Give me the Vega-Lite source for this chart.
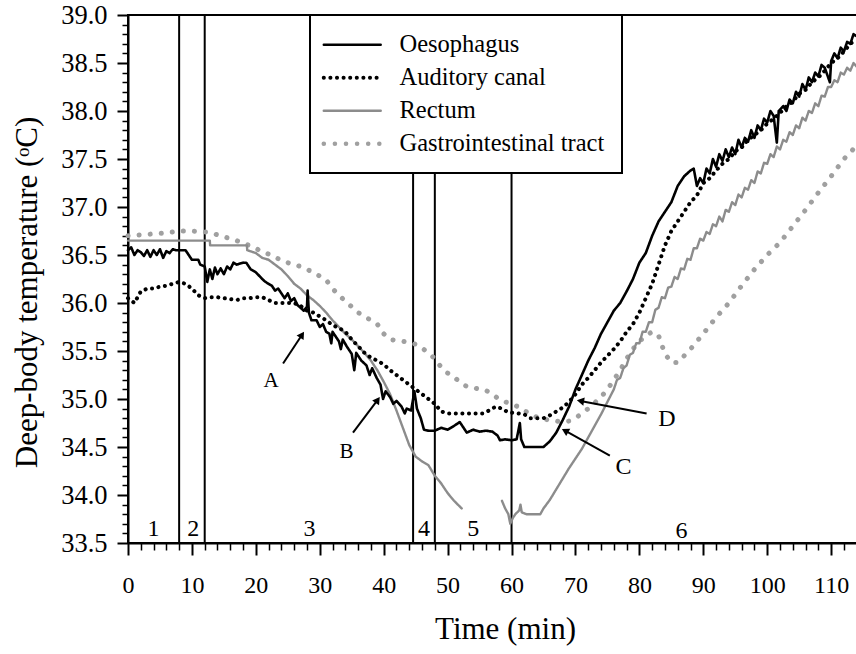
{
"$schema": "https://vega.github.io/schema/vega-lite/v6.json",
"width": 730, "height": 528,
"autosize": {"type": "none"},
"padding": {"left": 128, "top": 15, "right": 0, "bottom": 111},
"config": {
 "font": "Liberation Serif",
 "view": {"stroke": "black", "strokeWidth": 2},
 "axis": {"labelFont": "Liberation Serif", "titleFont": "Liberation Serif", "labelColor": "black", "titleColor": "black", "domainColor": "black", "tickColor": "black", "domainWidth": 2, "tickWidth": 2, "grid": false, "titleFontWeight": "normal", "labelFlush": false, "labelOverlap": false},
 "text": {"font": "Liberation Serif", "color": "black"}
},
"datasets": {
 "series": [
{"s":"Oesophagus","t":0,"v":36.55},{"s":"Oesophagus","t":0.5,"v":36.58},{"s":"Oesophagus","t":1,"v":36.5},{"s":"Oesophagus","t":1.5,"v":36.55},{"s":"Oesophagus","t":2,"v":36.53},{"s":"Oesophagus","t":2.5,"v":36.49},{"s":"Oesophagus","t":3,"v":36.55},{"s":"Oesophagus","t":3.5,"v":36.48},{"s":"Oesophagus","t":4,"v":36.55},{"s":"Oesophagus","t":4.5,"v":36.5},{"s":"Oesophagus","t":5,"v":36.56},{"s":"Oesophagus","t":5.5,"v":36.47},{"s":"Oesophagus","t":6,"v":36.54},{"s":"Oesophagus","t":6.5,"v":36.52},{"s":"Oesophagus","t":7,"v":36.56},{"s":"Oesophagus","t":7.5,"v":36.55},{"s":"Oesophagus","t":8,"v":36.55},{"s":"Oesophagus","t":9,"v":36.55},{"s":"Oesophagus","t":9.5,"v":36.5},{"s":"Oesophagus","t":10,"v":36.45},{"s":"Oesophagus","t":11,"v":36.45},{"s":"Oesophagus","t":11.3,"v":36.4},{"s":"Oesophagus","t":12,"v":36.38},{"s":"Oesophagus","t":12.4,"v":36.22},{"s":"Oesophagus","t":12.8,"v":36.35},{"s":"Oesophagus","t":13.2,"v":36.25},{"s":"Oesophagus","t":13.6,"v":36.37},{"s":"Oesophagus","t":14,"v":36.3},{"s":"Oesophagus","t":14.5,"v":36.36},{"s":"Oesophagus","t":15,"v":36.3},{"s":"Oesophagus","t":15.5,"v":36.38},{"s":"Oesophagus","t":16,"v":36.35},{"s":"Oesophagus","t":16.5,"v":36.42},{"s":"Oesophagus","t":17,"v":36.4},{"s":"Oesophagus","t":18,"v":36.42},{"s":"Oesophagus","t":18.5,"v":36.42},{"s":"Oesophagus","t":19.2,"v":36.35},{"s":"Oesophagus","t":20,"v":36.32},{"s":"Oesophagus","t":21,"v":36.25},{"s":"Oesophagus","t":21.5,"v":36.22},{"s":"Oesophagus","t":22.5,"v":36.18},{"s":"Oesophagus","t":23,"v":36.13},{"s":"Oesophagus","t":23.5,"v":36.15},{"s":"Oesophagus","t":24,"v":36.1},{"s":"Oesophagus","t":24.5,"v":36.05},{"s":"Oesophagus","t":25,"v":36.1},{"s":"Oesophagus","t":25.5,"v":36.02},{"s":"Oesophagus","t":26,"v":36.05},{"s":"Oesophagus","t":26.5,"v":35.98},{"s":"Oesophagus","t":27,"v":35.95},{"s":"Oesophagus","t":27.5,"v":35.92},{"s":"Oesophagus","t":28,"v":35.96},{"s":"Oesophagus","t":28.1,"v":36.13},{"s":"Oesophagus","t":28.3,"v":35.9},{"s":"Oesophagus","t":28.7,"v":35.82},{"s":"Oesophagus","t":29.5,"v":35.82},{"s":"Oesophagus","t":30,"v":35.75},{"s":"Oesophagus","t":30.5,"v":35.78},{"s":"Oesophagus","t":31,"v":35.7},{"s":"Oesophagus","t":31.5,"v":35.68},{"s":"Oesophagus","t":31.8,"v":35.58},{"s":"Oesophagus","t":32,"v":35.7},{"s":"Oesophagus","t":32.5,"v":35.65},{"s":"Oesophagus","t":33,"v":35.6},{"s":"Oesophagus","t":33.3,"v":35.52},{"s":"Oesophagus","t":33.6,"v":35.62},{"s":"Oesophagus","t":34.2,"v":35.55},{"s":"Oesophagus","t":35,"v":35.47},{"s":"Oesophagus","t":35.4,"v":35.3},{"s":"Oesophagus","t":35.7,"v":35.48},{"s":"Oesophagus","t":36.5,"v":35.4},{"s":"Oesophagus","t":37.3,"v":35.35},{"s":"Oesophagus","t":37.8,"v":35.25},{"s":"Oesophagus","t":38.2,"v":35.32},{"s":"Oesophagus","t":38.9,"v":35.22},{"s":"Oesophagus","t":39.5,"v":35.15},{"s":"Oesophagus","t":39.9,"v":35.0},{"s":"Oesophagus","t":40.3,"v":35.08},{"s":"Oesophagus","t":41,"v":35.02},{"s":"Oesophagus","t":41.5,"v":34.95},{"s":"Oesophagus","t":42,"v":34.98},{"s":"Oesophagus","t":42.8,"v":34.92},{"s":"Oesophagus","t":43.3,"v":34.85},{"s":"Oesophagus","t":43.6,"v":34.9},{"s":"Oesophagus","t":44.3,"v":34.88},{"s":"Oesophagus","t":44.8,"v":35.08},{"s":"Oesophagus","t":45.2,"v":34.9},{"s":"Oesophagus","t":45.8,"v":34.8},{"s":"Oesophagus","t":46.3,"v":34.68},{"s":"Oesophagus","t":47,"v":34.67},{"s":"Oesophagus","t":48,"v":34.67},{"s":"Oesophagus","t":49,"v":34.7},{"s":"Oesophagus","t":50,"v":34.68},{"s":"Oesophagus","t":51,"v":34.72},{"s":"Oesophagus","t":51.9,"v":34.76},{"s":"Oesophagus","t":52.5,"v":34.7},{"s":"Oesophagus","t":53,"v":34.65},{"s":"Oesophagus","t":54,"v":34.68},{"s":"Oesophagus","t":55,"v":34.66},{"s":"Oesophagus","t":56,"v":34.67},{"s":"Oesophagus","t":57,"v":34.66},{"s":"Oesophagus","t":57.8,"v":34.62},{"s":"Oesophagus","t":58.2,"v":34.57},{"s":"Oesophagus","t":59,"v":34.58},{"s":"Oesophagus","t":60,"v":34.57},{"s":"Oesophagus","t":60.8,"v":34.58},{"s":"Oesophagus","t":61.3,"v":34.75},{"s":"Oesophagus","t":61.5,"v":34.58},{"s":"Oesophagus","t":62,"v":34.5},{"s":"Oesophagus","t":63,"v":34.5},{"s":"Oesophagus","t":64,"v":34.5},{"s":"Oesophagus","t":65,"v":34.5},{"s":"Oesophagus","t":66,"v":34.56},{"s":"Oesophagus","t":67,"v":34.65},{"s":"Oesophagus","t":68,"v":34.78},{"s":"Oesophagus","t":69,"v":34.92},{"s":"Oesophagus","t":70,"v":35.1},{"s":"Oesophagus","t":71,"v":35.25},{"s":"Oesophagus","t":72,"v":35.4},{"s":"Oesophagus","t":73,"v":35.53},{"s":"Oesophagus","t":74,"v":35.68},{"s":"Oesophagus","t":75,"v":35.8},{"s":"Oesophagus","t":76,"v":35.92},{"s":"Oesophagus","t":77,"v":36.0},{"s":"Oesophagus","t":78,"v":36.12},{"s":"Oesophagus","t":79,"v":36.25},{"s":"Oesophagus","t":80,"v":36.42},{"s":"Oesophagus","t":81,"v":36.52},{"s":"Oesophagus","t":82,"v":36.7},{"s":"Oesophagus","t":83,"v":36.85},{"s":"Oesophagus","t":84,"v":36.95},{"s":"Oesophagus","t":85,"v":37.05},{"s":"Oesophagus","t":86,"v":37.22},{"s":"Oesophagus","t":87,"v":37.32},{"s":"Oesophagus","t":88,"v":37.38},{"s":"Oesophagus","t":88.5,"v":37.4},{"s":"Oesophagus","t":89,"v":37.22},{"s":"Oesophagus","t":89.5,"v":37.3},{"s":"Oesophagus","t":90,"v":37.25},{"s":"Oesophagus","t":90.5,"v":37.4},{"s":"Oesophagus","t":91,"v":37.35},{"s":"Oesophagus","t":91.5,"v":37.5},{"s":"Oesophagus","t":92,"v":37.42},{"s":"Oesophagus","t":92.5,"v":37.55},{"s":"Oesophagus","t":93,"v":37.48},{"s":"Oesophagus","t":93.5,"v":37.6},{"s":"Oesophagus","t":94,"v":37.52},{"s":"Oesophagus","t":94.5,"v":37.62},{"s":"Oesophagus","t":95,"v":37.55},{"s":"Oesophagus","t":95.5,"v":37.7},{"s":"Oesophagus","t":96,"v":37.62},{"s":"Oesophagus","t":96.5,"v":37.72},{"s":"Oesophagus","t":97,"v":37.68},{"s":"Oesophagus","t":97.5,"v":37.8},{"s":"Oesophagus","t":98,"v":37.72},{"s":"Oesophagus","t":98.5,"v":37.85},{"s":"Oesophagus","t":99,"v":37.8},{"s":"Oesophagus","t":99.5,"v":37.92},{"s":"Oesophagus","t":100,"v":37.88},{"s":"Oesophagus","t":100.5,"v":38.0},{"s":"Oesophagus","t":101,"v":37.95},{"s":"Oesophagus","t":101.5,"v":37.67},{"s":"Oesophagus","t":101.8,"v":38.0},{"s":"Oesophagus","t":102.5,"v":38.05},{"s":"Oesophagus","t":103,"v":38.0},{"s":"Oesophagus","t":103.5,"v":38.12},{"s":"Oesophagus","t":104,"v":38.08},{"s":"Oesophagus","t":104.5,"v":38.2},{"s":"Oesophagus","t":105,"v":38.15},{"s":"Oesophagus","t":105.5,"v":38.28},{"s":"Oesophagus","t":106,"v":38.22},{"s":"Oesophagus","t":106.5,"v":38.35},{"s":"Oesophagus","t":107,"v":38.3},{"s":"Oesophagus","t":107.5,"v":38.4},{"s":"Oesophagus","t":108,"v":38.36},{"s":"Oesophagus","t":108.5,"v":38.48},{"s":"Oesophagus","t":109,"v":38.45},{"s":"Oesophagus","t":109.8,"v":38.3},{"s":"Oesophagus","t":110,"v":38.52},{"s":"Oesophagus","t":110.5,"v":38.6},{"s":"Oesophagus","t":111,"v":38.55},{"s":"Oesophagus","t":111.5,"v":38.66},{"s":"Oesophagus","t":112,"v":38.62},{"s":"Oesophagus","t":112.5,"v":38.72},{"s":"Oesophagus","t":113,"v":38.7},{"s":"Oesophagus","t":113.5,"v":38.8},{"s":"Oesophagus","t":114,"v":38.78},
{"s":"Auditory canal","t":0,"v":36.05},{"s":"Auditory canal","t":1,"v":36.0},{"s":"Auditory canal","t":2,"v":36.12},{"s":"Auditory canal","t":3,"v":36.15},{"s":"Auditory canal","t":4,"v":36.15},{"s":"Auditory canal","t":5,"v":36.17},{"s":"Auditory canal","t":6,"v":36.18},{"s":"Auditory canal","t":7,"v":36.2},{"s":"Auditory canal","t":8,"v":36.22},{"s":"Auditory canal","t":9,"v":36.2},{"s":"Auditory canal","t":10,"v":36.15},{"s":"Auditory canal","t":11,"v":36.08},{"s":"Auditory canal","t":12,"v":36.05},{"s":"Auditory canal","t":13,"v":36.06},{"s":"Auditory canal","t":14,"v":36.06},{"s":"Auditory canal","t":15,"v":36.05},{"s":"Auditory canal","t":16,"v":36.04},{"s":"Auditory canal","t":17,"v":36.03},{"s":"Auditory canal","t":18,"v":36.05},{"s":"Auditory canal","t":19,"v":36.05},{"s":"Auditory canal","t":20,"v":36.06},{"s":"Auditory canal","t":21,"v":36.06},{"s":"Auditory canal","t":22,"v":36.03},{"s":"Auditory canal","t":23,"v":36.0},{"s":"Auditory canal","t":24,"v":36.0},{"s":"Auditory canal","t":25,"v":36.0},{"s":"Auditory canal","t":26,"v":36.0},{"s":"Auditory canal","t":27,"v":35.97},{"s":"Auditory canal","t":28,"v":35.92},{"s":"Auditory canal","t":29,"v":35.9},{"s":"Auditory canal","t":30,"v":35.86},{"s":"Auditory canal","t":31,"v":35.82},{"s":"Auditory canal","t":32,"v":35.77},{"s":"Auditory canal","t":33,"v":35.74},{"s":"Auditory canal","t":34,"v":35.7},{"s":"Auditory canal","t":35,"v":35.62},{"s":"Auditory canal","t":36,"v":35.55},{"s":"Auditory canal","t":37,"v":35.48},{"s":"Auditory canal","t":38,"v":35.43},{"s":"Auditory canal","t":39,"v":35.4},{"s":"Auditory canal","t":40,"v":35.36},{"s":"Auditory canal","t":41,"v":35.3},{"s":"Auditory canal","t":42,"v":35.25},{"s":"Auditory canal","t":43,"v":35.2},{"s":"Auditory canal","t":44,"v":35.15},{"s":"Auditory canal","t":45,"v":35.1},{"s":"Auditory canal","t":46,"v":35.05},{"s":"Auditory canal","t":47,"v":35.0},{"s":"Auditory canal","t":48,"v":34.95},{"s":"Auditory canal","t":49,"v":34.87},{"s":"Auditory canal","t":50,"v":34.85},{"s":"Auditory canal","t":52,"v":34.85},{"s":"Auditory canal","t":54,"v":34.85},{"s":"Auditory canal","t":55.5,"v":34.85},{"s":"Auditory canal","t":56.5,"v":34.88},{"s":"Auditory canal","t":57.5,"v":34.92},{"s":"Auditory canal","t":58.5,"v":34.9},{"s":"Auditory canal","t":59.5,"v":34.86},{"s":"Auditory canal","t":61,"v":34.85},{"s":"Auditory canal","t":62,"v":34.84},{"s":"Auditory canal","t":63,"v":34.8},{"s":"Auditory canal","t":64,"v":34.8},{"s":"Auditory canal","t":65,"v":34.8},{"s":"Auditory canal","t":66,"v":34.83},{"s":"Auditory canal","t":67,"v":34.87},{"s":"Auditory canal","t":68,"v":34.91},{"s":"Auditory canal","t":69,"v":34.97},{"s":"Auditory canal","t":70,"v":35.05},{"s":"Auditory canal","t":71,"v":35.15},{"s":"Auditory canal","t":72,"v":35.22},{"s":"Auditory canal","t":73,"v":35.3},{"s":"Auditory canal","t":74,"v":35.38},{"s":"Auditory canal","t":75,"v":35.45},{"s":"Auditory canal","t":76,"v":35.52},{"s":"Auditory canal","t":77,"v":35.6},{"s":"Auditory canal","t":78,"v":35.7},{"s":"Auditory canal","t":79,"v":35.78},{"s":"Auditory canal","t":80,"v":35.9},{"s":"Auditory canal","t":81,"v":36.05},{"s":"Auditory canal","t":82,"v":36.2},{"s":"Auditory canal","t":83,"v":36.4},{"s":"Auditory canal","t":84,"v":36.6},{"s":"Auditory canal","t":85,"v":36.75},{"s":"Auditory canal","t":86,"v":36.85},{"s":"Auditory canal","t":87,"v":36.95},{"s":"Auditory canal","t":88,"v":37.05},{"s":"Auditory canal","t":89,"v":37.12},{"s":"Auditory canal","t":90,"v":37.25},{"s":"Auditory canal","t":91,"v":37.3},{"s":"Auditory canal","t":92,"v":37.38},{"s":"Auditory canal","t":93,"v":37.45},{"s":"Auditory canal","t":94,"v":37.5},{"s":"Auditory canal","t":95,"v":37.58},{"s":"Auditory canal","t":96,"v":37.62},{"s":"Auditory canal","t":97,"v":37.7},{"s":"Auditory canal","t":98,"v":37.75},{"s":"Auditory canal","t":99,"v":37.8},{"s":"Auditory canal","t":100,"v":37.87},{"s":"Auditory canal","t":101,"v":37.92},{"s":"Auditory canal","t":102,"v":37.98},{"s":"Auditory canal","t":103,"v":38.05},{"s":"Auditory canal","t":104,"v":38.1},{"s":"Auditory canal","t":105,"v":38.18},{"s":"Auditory canal","t":106,"v":38.22},{"s":"Auditory canal","t":107,"v":38.3},{"s":"Auditory canal","t":108,"v":38.35},{"s":"Auditory canal","t":109,"v":38.42},{"s":"Auditory canal","t":110,"v":38.5},{"s":"Auditory canal","t":111,"v":38.55},{"s":"Auditory canal","t":112,"v":38.62},{"s":"Auditory canal","t":113,"v":38.7},{"s":"Auditory canal","t":114,"v":38.75},
{"s":"Rectum","p":1,"t":0,"v":36.65},{"s":"Rectum","p":1,"t":12.8,"v":36.65},{"s":"Rectum","p":1,"t":12.85,"v":36.6},{"s":"Rectum","p":1,"t":18.6,"v":36.6},{"s":"Rectum","p":1,"t":18.65,"v":36.55},{"s":"Rectum","p":1,"t":20,"v":36.52},{"s":"Rectum","p":1,"t":21,"v":36.47},{"s":"Rectum","p":1,"t":22,"v":36.45},{"s":"Rectum","p":1,"t":23,"v":36.4},{"s":"Rectum","p":1,"t":24,"v":36.35},{"s":"Rectum","p":1,"t":25,"v":36.28},{"s":"Rectum","p":1,"t":26,"v":36.2},{"s":"Rectum","p":1,"t":27,"v":36.15},{"s":"Rectum","p":1,"t":28,"v":36.08},{"s":"Rectum","p":1,"t":29,"v":36.03},{"s":"Rectum","p":1,"t":30,"v":35.97},{"s":"Rectum","p":1,"t":31,"v":35.9},{"s":"Rectum","p":1,"t":32,"v":35.82},{"s":"Rectum","p":1,"t":33,"v":35.75},{"s":"Rectum","p":1,"t":34,"v":35.68},{"s":"Rectum","p":1,"t":35,"v":35.62},{"s":"Rectum","p":1,"t":36,"v":35.55},{"s":"Rectum","p":1,"t":37,"v":35.48},{"s":"Rectum","p":1,"t":38,"v":35.4},{"s":"Rectum","p":1,"t":39,"v":35.3},{"s":"Rectum","p":1,"t":40,"v":35.18},{"s":"Rectum","p":1,"t":41,"v":35.05},{"s":"Rectum","p":1,"t":42,"v":34.88},{"s":"Rectum","p":1,"t":43,"v":34.7},{"s":"Rectum","p":1,"t":44,"v":34.52},{"s":"Rectum","p":1,"t":45,"v":34.4},{"s":"Rectum","p":1,"t":46,"v":34.35},{"s":"Rectum","p":1,"t":47,"v":34.31},{"s":"Rectum","p":1,"t":48,"v":34.2},{"s":"Rectum","p":1,"t":49,"v":34.12},{"s":"Rectum","p":1,"t":50,"v":34.02},{"s":"Rectum","p":1,"t":51,"v":33.94},{"s":"Rectum","p":1,"t":52.2,"v":33.86},
{"s":"Rectum","p":2,"t":58.5,"v":33.94},{"s":"Rectum","p":2,"t":59,"v":33.86},{"s":"Rectum","p":2,"t":59.5,"v":33.8},{"s":"Rectum","p":2,"t":59.8,"v":33.7},{"s":"Rectum","p":2,"t":60.2,"v":33.76},{"s":"Rectum","p":2,"t":60.6,"v":33.8},{"s":"Rectum","p":2,"t":61.2,"v":33.84},{"s":"Rectum","p":2,"t":61.4,"v":33.9},{"s":"Rectum","p":2,"t":61.6,"v":33.82},{"s":"Rectum","p":2,"t":62.3,"v":33.8},{"s":"Rectum","p":2,"t":64.5,"v":33.8},{"s":"Rectum","p":2,"t":65,"v":33.86},{"s":"Rectum","p":2,"t":66,"v":33.95},{"s":"Rectum","p":2,"t":67,"v":34.06},{"s":"Rectum","p":2,"t":68,"v":34.17},{"s":"Rectum","p":2,"t":69,"v":34.28},{"s":"Rectum","p":2,"t":70,"v":34.38},{"s":"Rectum","p":2,"t":71,"v":34.48},{"s":"Rectum","p":2,"t":72,"v":34.6},{"s":"Rectum","p":2,"t":73,"v":34.72},{"s":"Rectum","p":2,"t":74,"v":34.84},{"s":"Rectum","p":2,"t":75,"v":34.97},{"s":"Rectum","p":2,"t":76,"v":35.1},{"s":"Rectum","p":2,"t":76.5,"v":35.2},{"s":"Rectum","p":2,"t":77,"v":35.22},{"s":"Rectum","p":2,"t":77.5,"v":35.32},{"s":"Rectum","p":2,"t":78,"v":35.35},{"s":"Rectum","p":2,"t":78.5,"v":35.46},{"s":"Rectum","p":2,"t":79,"v":35.48},{"s":"Rectum","p":2,"t":79.5,"v":35.58},{"s":"Rectum","p":2,"t":80,"v":35.58},{"s":"Rectum","p":2,"t":80.5,"v":35.7},{"s":"Rectum","p":2,"t":81,"v":35.7},{"s":"Rectum","p":2,"t":81.5,"v":35.8},{"s":"Rectum","p":2,"t":82,"v":35.8},{"s":"Rectum","p":2,"t":82.5,"v":35.93},{"s":"Rectum","p":2,"t":83,"v":35.95},{"s":"Rectum","p":2,"t":83.5,"v":36.06},{"s":"Rectum","p":2,"t":84,"v":36.05},{"s":"Rectum","p":2,"t":84.5,"v":36.16},{"s":"Rectum","p":2,"t":85,"v":36.17},{"s":"Rectum","p":2,"t":85.5,"v":36.27},{"s":"Rectum","p":2,"t":86,"v":36.25},{"s":"Rectum","p":2,"t":86.5,"v":36.36},{"s":"Rectum","p":2,"t":87,"v":36.35},{"s":"Rectum","p":2,"t":87.5,"v":36.46},{"s":"Rectum","p":2,"t":88,"v":36.45},{"s":"Rectum","p":2,"t":88.5,"v":36.57},{"s":"Rectum","p":2,"t":89,"v":36.57},{"s":"Rectum","p":2,"t":89.5,"v":36.67},{"s":"Rectum","p":2,"t":90,"v":36.65},{"s":"Rectum","p":2,"t":90.5,"v":36.74},{"s":"Rectum","p":2,"t":91,"v":36.72},{"s":"Rectum","p":2,"t":91.5,"v":36.82},{"s":"Rectum","p":2,"t":92,"v":36.8},{"s":"Rectum","p":2,"t":92.5,"v":36.9},{"s":"Rectum","p":2,"t":93,"v":36.85},{"s":"Rectum","p":2,"t":93.5,"v":36.97},{"s":"Rectum","p":2,"t":94,"v":36.95},{"s":"Rectum","p":2,"t":94.5,"v":37.05},{"s":"Rectum","p":2,"t":95,"v":37.02},{"s":"Rectum","p":2,"t":95.5,"v":37.13},{"s":"Rectum","p":2,"t":96,"v":37.1},{"s":"Rectum","p":2,"t":96.5,"v":37.2},{"s":"Rectum","p":2,"t":97,"v":37.18},{"s":"Rectum","p":2,"t":97.5,"v":37.28},{"s":"Rectum","p":2,"t":98,"v":37.25},{"s":"Rectum","p":2,"t":98.5,"v":37.37},{"s":"Rectum","p":2,"t":99,"v":37.35},{"s":"Rectum","p":2,"t":99.5,"v":37.46},{"s":"Rectum","p":2,"t":100,"v":37.45},{"s":"Rectum","p":2,"t":100.5,"v":37.55},{"s":"Rectum","p":2,"t":101,"v":37.52},{"s":"Rectum","p":2,"t":101.5,"v":37.63},{"s":"Rectum","p":2,"t":102,"v":37.6},{"s":"Rectum","p":2,"t":102.5,"v":37.7},{"s":"Rectum","p":2,"t":103,"v":37.68},{"s":"Rectum","p":2,"t":103.5,"v":37.78},{"s":"Rectum","p":2,"t":104,"v":37.75},{"s":"Rectum","p":2,"t":104.5,"v":37.85},{"s":"Rectum","p":2,"t":105,"v":37.82},{"s":"Rectum","p":2,"t":105.5,"v":37.93},{"s":"Rectum","p":2,"t":106,"v":37.9},{"s":"Rectum","p":2,"t":106.5,"v":38.0},{"s":"Rectum","p":2,"t":107,"v":37.98},{"s":"Rectum","p":2,"t":107.5,"v":38.08},{"s":"Rectum","p":2,"t":108,"v":38.05},{"s":"Rectum","p":2,"t":108.5,"v":38.16},{"s":"Rectum","p":2,"t":109,"v":38.15},{"s":"Rectum","p":2,"t":109.5,"v":38.25},{"s":"Rectum","p":2,"t":110,"v":38.25},{"s":"Rectum","p":2,"t":110.5,"v":38.32},{"s":"Rectum","p":2,"t":111,"v":38.3},{"s":"Rectum","p":2,"t":111.5,"v":38.4},{"s":"Rectum","p":2,"t":112,"v":38.38},{"s":"Rectum","p":2,"t":112.5,"v":38.45},{"s":"Rectum","p":2,"t":113,"v":38.42},{"s":"Rectum","p":2,"t":113.5,"v":38.5},{"s":"Rectum","p":2,"t":114,"v":38.46},
{"s":"Gastrointestinal tract","t":0,"v":36.7},{"s":"Gastrointestinal tract","t":2,"v":36.71},{"s":"Gastrointestinal tract","t":4,"v":36.72},{"s":"Gastrointestinal tract","t":6,"v":36.73},{"s":"Gastrointestinal tract","t":8,"v":36.75},{"s":"Gastrointestinal tract","t":10,"v":36.75},{"s":"Gastrointestinal tract","t":12,"v":36.74},{"s":"Gastrointestinal tract","t":13,"v":36.73},{"s":"Gastrointestinal tract","t":14,"v":36.71},{"s":"Gastrointestinal tract","t":15,"v":36.69},{"s":"Gastrointestinal tract","t":16,"v":36.67},{"s":"Gastrointestinal tract","t":17,"v":36.65},{"s":"Gastrointestinal tract","t":18,"v":36.62},{"s":"Gastrointestinal tract","t":19,"v":36.6},{"s":"Gastrointestinal tract","t":20,"v":36.57},{"s":"Gastrointestinal tract","t":21,"v":36.53},{"s":"Gastrointestinal tract","t":22,"v":36.51},{"s":"Gastrointestinal tract","t":23,"v":36.48},{"s":"Gastrointestinal tract","t":24,"v":36.44},{"s":"Gastrointestinal tract","t":25,"v":36.42},{"s":"Gastrointestinal tract","t":26,"v":36.4},{"s":"Gastrointestinal tract","t":27,"v":36.38},{"s":"Gastrointestinal tract","t":28,"v":36.35},{"s":"Gastrointestinal tract","t":29,"v":36.32},{"s":"Gastrointestinal tract","t":30,"v":36.28},{"s":"Gastrointestinal tract","t":31,"v":36.24},{"s":"Gastrointestinal tract","t":32,"v":36.15},{"s":"Gastrointestinal tract","t":33,"v":36.08},{"s":"Gastrointestinal tract","t":34,"v":36.02},{"s":"Gastrointestinal tract","t":35,"v":35.96},{"s":"Gastrointestinal tract","t":36,"v":35.9},{"s":"Gastrointestinal tract","t":37,"v":35.86},{"s":"Gastrointestinal tract","t":38,"v":35.82},{"s":"Gastrointestinal tract","t":39,"v":35.78},{"s":"Gastrointestinal tract","t":40,"v":35.68},{"s":"Gastrointestinal tract","t":41,"v":35.62},{"s":"Gastrointestinal tract","t":42,"v":35.61},{"s":"Gastrointestinal tract","t":43,"v":35.6},{"s":"Gastrointestinal tract","t":44,"v":35.59},{"s":"Gastrointestinal tract","t":45,"v":35.57},{"s":"Gastrointestinal tract","t":46,"v":35.53},{"s":"Gastrointestinal tract","t":47,"v":35.48},{"s":"Gastrointestinal tract","t":48,"v":35.42},{"s":"Gastrointestinal tract","t":49,"v":35.33},{"s":"Gastrointestinal tract","t":50,"v":35.27},{"s":"Gastrointestinal tract","t":51,"v":35.23},{"s":"Gastrointestinal tract","t":52,"v":35.17},{"s":"Gastrointestinal tract","t":53,"v":35.13},{"s":"Gastrointestinal tract","t":54,"v":35.12},{"s":"Gastrointestinal tract","t":55,"v":35.1},{"s":"Gastrointestinal tract","t":56,"v":35.09},{"s":"Gastrointestinal tract","t":57,"v":35.05},{"s":"Gastrointestinal tract","t":58,"v":35.0},{"s":"Gastrointestinal tract","t":59,"v":34.97},{"s":"Gastrointestinal tract","t":60,"v":34.95},{"s":"Gastrointestinal tract","t":61,"v":34.92},{"s":"Gastrointestinal tract","t":62,"v":34.88},{"s":"Gastrointestinal tract","t":63,"v":34.84},{"s":"Gastrointestinal tract","t":64,"v":34.81},{"s":"Gastrointestinal tract","t":65,"v":34.79},{"s":"Gastrointestinal tract","t":66,"v":34.78},{"s":"Gastrointestinal tract","t":67,"v":34.77},{"s":"Gastrointestinal tract","t":68,"v":34.76},{"s":"Gastrointestinal tract","t":69,"v":34.77},{"s":"Gastrointestinal tract","t":70,"v":34.8},{"s":"Gastrointestinal tract","t":71,"v":34.85},{"s":"Gastrointestinal tract","t":72,"v":34.9},{"s":"Gastrointestinal tract","t":73,"v":34.96},{"s":"Gastrointestinal tract","t":74,"v":35.02},{"s":"Gastrointestinal tract","t":75,"v":35.1},{"s":"Gastrointestinal tract","t":76,"v":35.2},{"s":"Gastrointestinal tract","t":77,"v":35.3},{"s":"Gastrointestinal tract","t":78,"v":35.42},{"s":"Gastrointestinal tract","t":79,"v":35.52},{"s":"Gastrointestinal tract","t":80,"v":35.6},{"s":"Gastrointestinal tract","t":81,"v":35.66},{"s":"Gastrointestinal tract","t":82,"v":35.7},{"s":"Gastrointestinal tract","t":83,"v":35.66},{"s":"Gastrointestinal tract","t":84,"v":35.47},{"s":"Gastrointestinal tract","t":85,"v":35.38},{"s":"Gastrointestinal tract","t":86,"v":35.38},{"s":"Gastrointestinal tract","t":87,"v":35.45},{"s":"Gastrointestinal tract","t":88,"v":35.52},{"s":"Gastrointestinal tract","t":89,"v":35.6},{"s":"Gastrointestinal tract","t":90,"v":35.68},{"s":"Gastrointestinal tract","t":92,"v":35.85},{"s":"Gastrointestinal tract","t":94,"v":36.0},{"s":"Gastrointestinal tract","t":96,"v":36.18},{"s":"Gastrointestinal tract","t":98,"v":36.35},{"s":"Gastrointestinal tract","t":100,"v":36.5},{"s":"Gastrointestinal tract","t":102,"v":36.63},{"s":"Gastrointestinal tract","t":104,"v":36.8},{"s":"Gastrointestinal tract","t":106,"v":36.97},{"s":"Gastrointestinal tract","t":108,"v":37.15},{"s":"Gastrointestinal tract","t":110,"v":37.32},{"s":"Gastrointestinal tract","t":112,"v":37.5},{"s":"Gastrointestinal tract","t":114,"v":37.64}
 ]
},
"layer": [
 {
  "data": {"values": [{"t": 8}, {"t": 12}, {"t": 44.6}, {"t": 48}, {"t": 60}]},
  "mark": {"type": "rule", "color": "black", "strokeWidth": 2},
  "encoding": {"x": {"field": "t", "type": "quantitative", "scale": {"domain": [0, 114.2], "nice": false, "zero": false}, "axis": null}}
 },
 {
  "data": {"name": "series"},
  "transform": [{"filter": "datum.s === 'Gastrointestinal tract'"}],
  "mark": {"type": "line", "strokeCap": "round", "strokeJoin": "round", "strokeWidth": 5},
  "encoding": {
   "x": {"field": "t", "type": "quantitative", "scale": {"domain": [0, 114.2], "nice": false, "zero": false},
     "axis": {"orient": "bottom", "values": [0,10,20,30,40,50,60,70,80,90,100,110], "labelFontSize": 24, "tickSize": 12, "labelPadding": 18, "title": "Time (min)", "titleFontSize": 31, "titleX": 377, "titleY": 86, "titleBaseline": "middle", "titleAlign": "center"}},
   "y": {"field": "v", "type": "quantitative", "scale": {"domain": [33.5, 39], "nice": false, "zero": false},
     "axis": {"orient": "left", "values": [33.5,34,34.5,35,35.5,36,36.5,37,37.5,38,38.5,39], "format": ".1f", "labelFontSize": 26.5, "tickSize": 11, "labelPadding": 10, "title": "Deep-body temperature (ᵒC)", "titleFontSize": 31, "titleX": -101, "titleY": 277, "titleAngle": -90, "titleBaseline": "middle", "titleAlign": "center"}},
   "color": {"field": "s", "type": "nominal",
     "scale": {"domain": ["Oesophagus", "Auditory canal", "Rectum", "Gastrointestinal tract"], "range": ["#000000", "#000000", "#8c8c8c", "#a0a0a0"]},
     "legend": {"orient": "none", "legendX": 182, "legendY": 0, "title": null, "symbolType": "M-1.6,0H4.1", "symbolSize": 400, "labelFont": "Liberation Serif", "labelFontSize": 24.5, "labelColor": "black", "labelOffset": 47.5, "labelLimit": 400, "padding": 17.5, "rowPadding": 8, "fillColor": "white", "strokeColor": "black",
       "encode": {"symbols": {"update": {"strokeCap": {"value": "round"}, "strokeWidth": {"signal": "datum.value === 'Auditory canal' ? 4 : datum.value === 'Gastrointestinal tract' ? 4.5 : 2.4"}}}, "legend": {"update": {"strokeWidth": {"value": 2}}}}}},
   "strokeDash": {"field": "s", "type": "nominal",
     "scale": {"domain": ["Oesophagus", "Auditory canal", "Rectum", "Gastrointestinal tract"], "range": [[1, 0], [0.1, 6.5], [1, 0], [0.1, 11]]}}
  }
 },
 {
  "data": {"name": "series"},
  "transform": [{"filter": "datum.s === 'Rectum'"}],
  "mark": {"type": "line", "strokeCap": "round", "strokeJoin": "round", "strokeWidth": 2.4},
  "encoding": {
   "x": {"field": "t", "type": "quantitative", "axis": null},
   "y": {"field": "v", "type": "quantitative", "axis": null},
   "color": {"field": "s", "type": "nominal"},
   "strokeDash": {"field": "s", "type": "nominal"},
   "detail": {"field": "p", "type": "nominal"}
  }
 },
 {
  "data": {"name": "series"},
  "transform": [{"filter": "datum.s === 'Auditory canal'"}],
  "mark": {"type": "line", "strokeCap": "round", "strokeJoin": "round", "strokeWidth": 4},
  "encoding": {
   "x": {"field": "t", "type": "quantitative", "axis": null},
   "y": {"field": "v", "type": "quantitative", "axis": null},
   "color": {"field": "s", "type": "nominal"},
   "strokeDash": {"field": "s", "type": "nominal"}
  }
 },
 {
  "data": {"name": "series"},
  "transform": [{"filter": "datum.s === 'Oesophagus'"}],
  "mark": {"type": "line", "strokeCap": "round", "strokeJoin": "round", "strokeWidth": 2.6},
  "encoding": {
   "x": {"field": "t", "type": "quantitative", "axis": null},
   "y": {"field": "v", "type": "quantitative", "axis": null},
   "color": {"field": "s", "type": "nominal"},
   "strokeDash": {"field": "s", "type": "nominal"}
  }
 },
 {
  "data": {"values": [{"t": 0, "v": 33.5}]},
  "mark": {"type": "point", "opacity": 0},
  "encoding": {
   "x": {"field": "t", "type": "quantitative", "scale": {"domain": [0, 114.2], "nice": false, "zero": false},
     "axis": {"orient": "bottom", "values": [2,4,6,8,12,14,16,18,22,24,26,28,32,34,36,38,42,44,46,48,52,54,56,58,62,64,66,68,72,74,76,78,82,84,86,88,92,94,96,98,102,104,106,108,112], "labels": false, "domain": false, "tickSize": 7, "tickWidth": 1.5, "title": null}},
   "y": {"field": "v", "type": "quantitative", "scale": {"domain": [33.5, 39], "nice": false, "zero": false},
     "axis": {"orient": "left", "values": [33.6,33.7,33.8,33.9,34.1,34.2,34.3,34.4,34.6,34.7,34.8,34.9,35.1,35.2,35.3,35.4,35.6,35.7,35.8,35.9,36.1,36.2,36.3,36.4,36.6,36.7,36.8,36.9,37.1,37.2,37.3,37.4,37.6,37.7,37.8,37.9,38.1,38.2,38.3,38.4,38.6,38.7,38.8,38.9], "labels": false, "domain": false, "tickSize": 6, "tickWidth": 1.5, "title": null}}
  }
 },
 {
  "data": {"values": [
   {"t": 24.26, "v": 35.37, "t2": 27.23, "v2": 35.67},
   {"t": 35.2, "v": 34.65, "t2": 39.06, "v2": 34.99},
   {"t": 75.38, "v": 34.41, "t2": 68.37, "v2": 34.67},
   {"t": 81.13, "v": 34.85, "t2": 70.78, "v2": 34.98}
  ]},
  "mark": {"type": "rule", "color": "black", "strokeWidth": 2},
  "encoding": {
   "x": {"field": "t", "type": "quantitative", "axis": null},
   "y": {"field": "v", "type": "quantitative", "axis": null},
   "x2": {"field": "t2"},
   "y2": {"field": "v2"}
  }
 },
 {
  "data": {"values": [{"t": 27.23, "v": 35.67}]},
  "mark": {"type": "point", "shape": "triangle-up", "filled": true, "color": "black", "opacity": 1, "size": 70, "angle": 33},
  "encoding": {"x": {"field": "t", "type": "quantitative", "axis": null}, "y": {"field": "v", "type": "quantitative", "axis": null}}
 },
 {
  "data": {"values": [{"t": 39.06, "v": 34.99}]},
  "mark": {"type": "point", "shape": "triangle-up", "filled": true, "color": "black", "opacity": 1, "size": 70, "angle": 35},
  "encoding": {"x": {"field": "t", "type": "quantitative", "axis": null}, "y": {"field": "v", "type": "quantitative", "axis": null}}
 },
 {
  "data": {"values": [{"t": 68.37, "v": 34.67}]},
  "mark": {"type": "point", "shape": "triangle-up", "filled": true, "color": "black", "opacity": 1, "size": 70, "angle": 299},
  "encoding": {"x": {"field": "t", "type": "quantitative", "axis": null}, "y": {"field": "v", "type": "quantitative", "axis": null}}
 },
 {
  "data": {"values": [{"t": 70.78, "v": 34.98}]},
  "mark": {"type": "point", "shape": "triangle-up", "filled": true, "color": "black", "opacity": 1, "size": 70, "angle": 280},
  "encoding": {"x": {"field": "t", "type": "quantitative", "axis": null}, "y": {"field": "v", "type": "quantitative", "axis": null}}
 },
 {
  "data": {"values": [
   {"label": "A", "t": 22.4, "v": 35.19},
   {"label": "B", "t": 34.2, "v": 34.45}
  ]},
  "mark": {"type": "text", "fontSize": 21, "align": "center", "baseline": "middle"},
  "encoding": {"x": {"field": "t", "type": "quantitative", "axis": null}, "y": {"field": "v", "type": "quantitative", "axis": null}, "text": {"field": "label"}}
 },
 {
  "data": {"values": [
   {"label": "C", "t": 77.5, "v": 34.29},
   {"label": "D", "t": 84.3, "v": 34.79}
  ]},
  "mark": {"type": "text", "fontSize": 24, "align": "center", "baseline": "middle"},
  "encoding": {"x": {"field": "t", "type": "quantitative", "axis": null}, "y": {"field": "v", "type": "quantitative", "axis": null}, "text": {"field": "label"}}
 },
 {
  "data": {"values": [
   {"label": "1", "t": 4.0, "v": 33.65},
   {"label": "2", "t": 10.2, "v": 33.65},
   {"label": "3", "t": 28.4, "v": 33.65},
   {"label": "4", "t": 46.3, "v": 33.65},
   {"label": "5", "t": 54.0, "v": 33.65},
   {"label": "6", "t": 86.6, "v": 33.63}
  ]},
  "mark": {"type": "text", "fontSize": 24, "align": "center", "baseline": "middle"},
  "encoding": {"x": {"field": "t", "type": "quantitative", "axis": null}, "y": {"field": "v", "type": "quantitative", "axis": null}, "text": {"field": "label"}}
 }
],
"resolve": {"axis": {"x": "independent", "y": "independent"}}
}
